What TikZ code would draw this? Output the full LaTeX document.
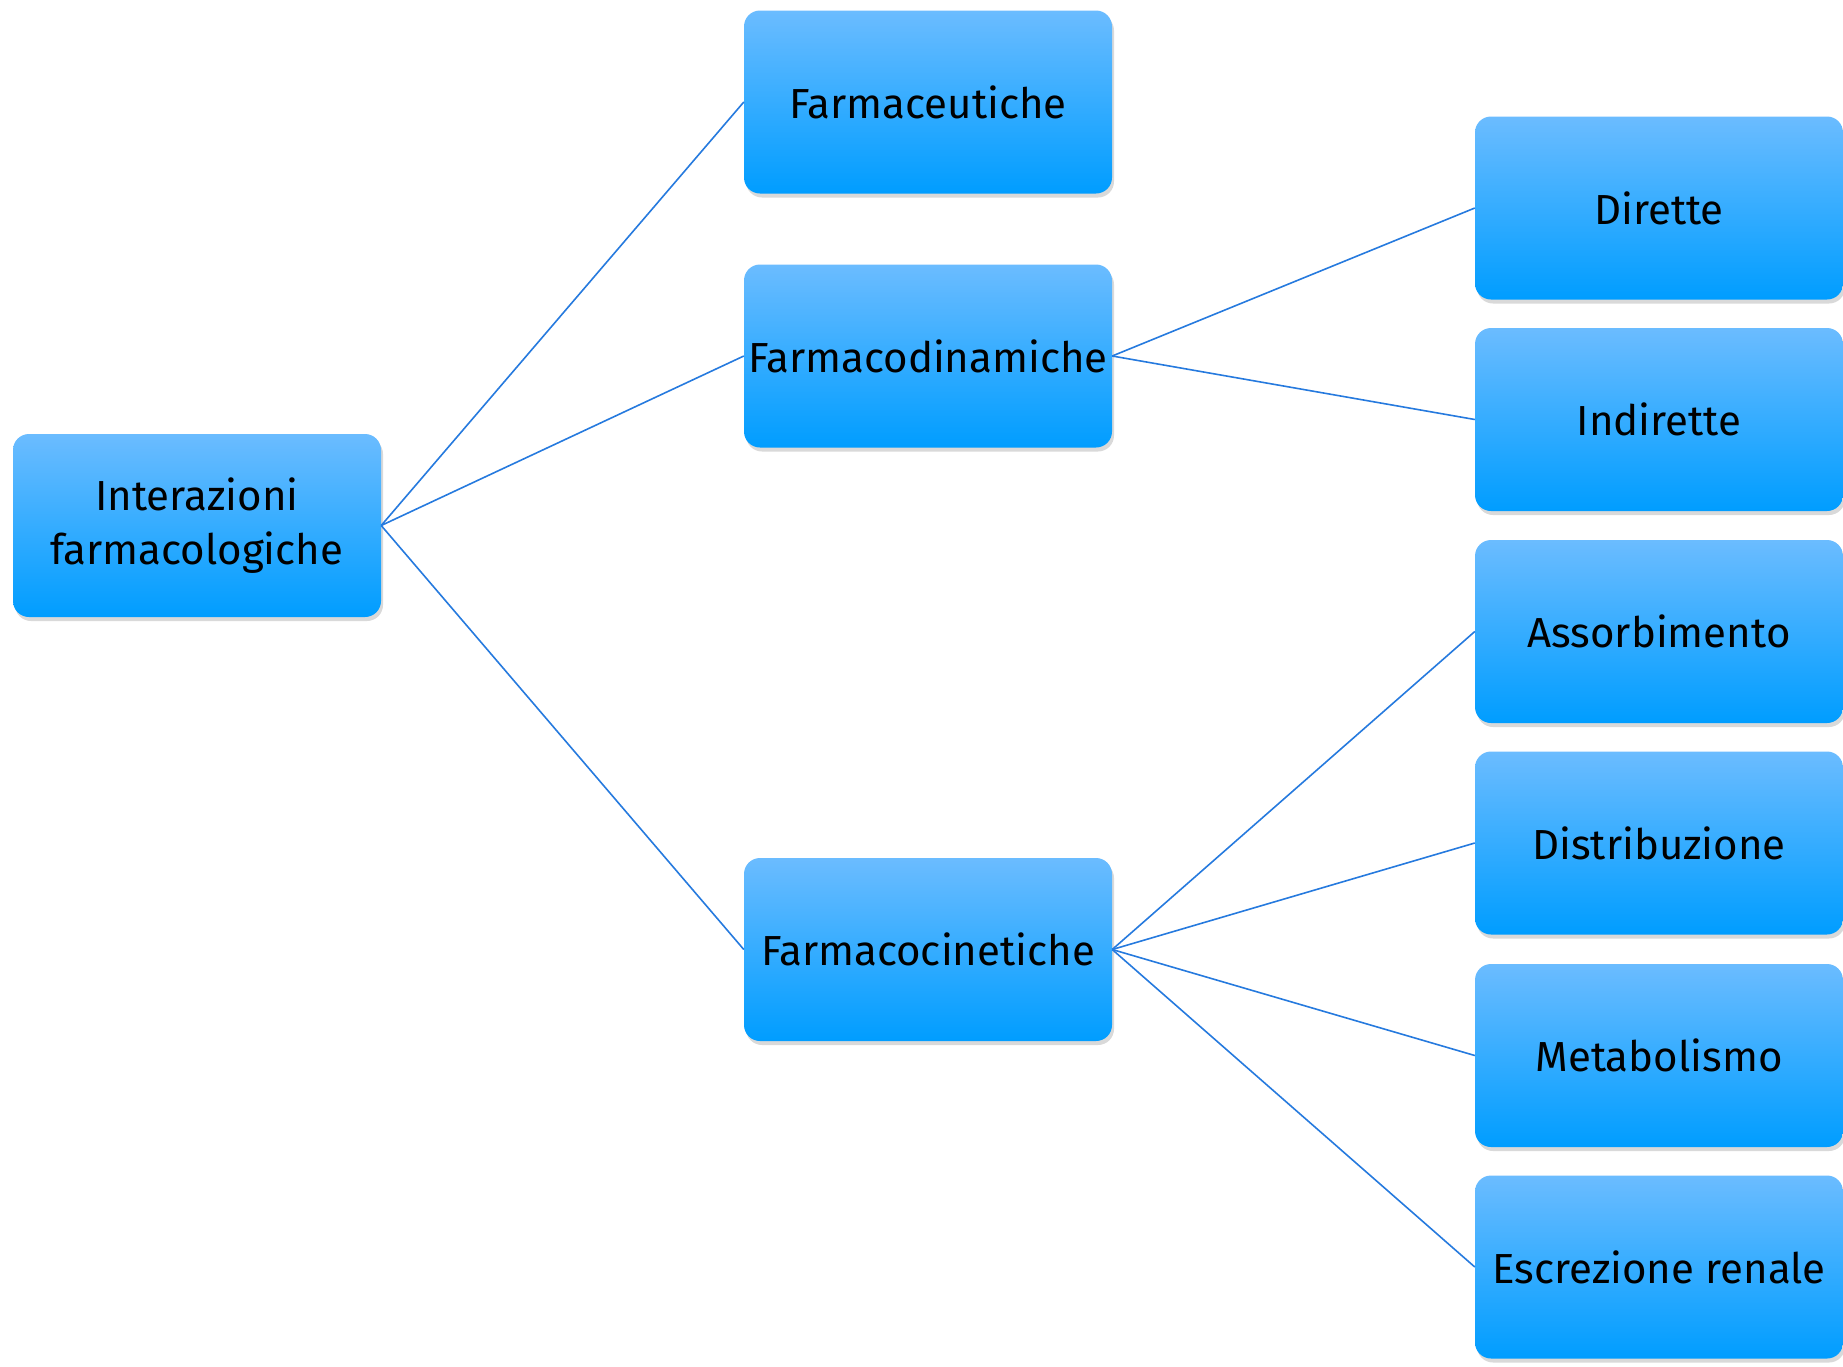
\documentclass[tikz,border=0pt]{standalone}
\usepackage{fontspec}
\setmainfont{Fira Sans}
\usetikzlibrary{shadows}
\definecolor{boxtop}{RGB}{107,188,255}
\definecolor{boxbot}{RGB}{0,157,255}
\definecolor{linec}{RGB}{38,122,222}
\begin{document}
\begin{tikzpicture}[x=1pt,y=-1pt,
  box/.style={rectangle, rounded corners=16pt, minimum width=368pt, minimum height=183pt,
    inner sep=0pt, top color=boxtop, bottom color=boxbot, draw=none,
    drop shadow={opacity=0.3, shadow xshift=2pt, shadow yshift=-4pt},
    font=\fontsize{42}{54}\selectfont, align=center, text=black},
  link/.style={draw=linec, line width=1.6pt}]
\useasboundingbox (0,0) rectangle (1843,1366);
\node[box] (int) at (197,525.5) {Interazioni\\farmacologiche};
\node[box] (fce) at (928,102) {Farmaceutiche};
\node[box] (fdi) at (928,356) {Farmacodinamiche};
\node[box] (fci) at (928,949.5) {Farmacocinetiche};
\node[box] (dir) at (1659,208) {Dirette};
\node[box] (ind) at (1659,419.5) {Indirette};
\node[box] (ass) at (1659,631.5) {Assorbimento};
\node[box] (dis) at (1659,843) {Distribuzione};
\node[box] (met) at (1659,1055.5) {Metabolismo};
\node[box] (esc) at (1659,1267) {Escrezione renale};
\draw[link] (int.east) -- (fce.west);
\draw[link] (int.east) -- (fdi.west);
\draw[link] (int.east) -- (fci.west);
\draw[link] (fdi.east) -- (dir.west);
\draw[link] (fdi.east) -- (ind.west);
\draw[link] (fci.east) -- (ass.west);
\draw[link] (fci.east) -- (dis.west);
\draw[link] (fci.east) -- (met.west);
\draw[link] (fci.east) -- (esc.west);
\end{tikzpicture}
\end{document}
